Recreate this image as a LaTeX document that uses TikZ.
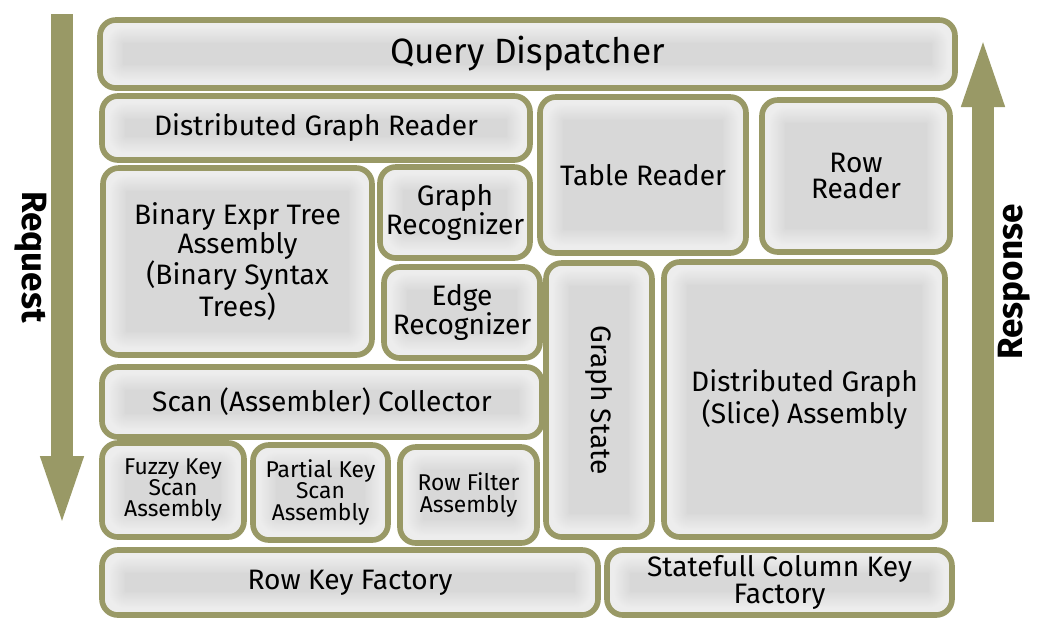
\documentclass[tikz,border=0pt]{standalone}
\usepackage{fontspec}
\setmainfont{Fira Sans}
\usetikzlibrary{arrows.meta}

\definecolor{olivebd}{RGB}{153,153,102}
\definecolor{boxgray}{RGB}{216,216,216}

\tikzset{
  blk/.style={draw=olivebd, line width=3.2pt, rounded corners=9pt,
    fill=boxgray, align=center, inner sep=2pt,
    path picture={
      % inner white glow along the border
      \foreach \w in {1,2,...,26}
        \draw[white, line width=\w pt, opacity=0.055, rounded corners=14pt]
          (path picture bounding box.south west) rectangle
          (path picture bounding box.north east);
    }},
  bigtxt/.style={font=\fontsize{20}{20}\selectfont},
  midtxt/.style={font=\fontsize{16}{15}\selectfont},
  smalltxt/.style={font=\fontsize{13}{12}\selectfont},
  flow/.style={olivebd, line width=0.44cm,
    -{Triangle[length=1.5cm, width=0.74cm]}},
  flowlbl/.style={font=\fontsize{20}{20}\selectfont\bfseries}
}

\begin{document}
\begin{tikzpicture}
  \useasboundingbox (0,0) rectangle (21.06,-12.66);

  % Fila superior
  \node[blk, bigtxt, minimum width=17.1cm, minimum height=1.36cm] (qd) at (10.55,-1.08) {Query Dispatcher};

  % Lectores
  \node[blk, midtxt, minimum width=8.56cm, minimum height=1.28cm] (dgr) at (6.32,-2.56) {Distributed Graph Reader};
  \node[blk, midtxt, minimum width=4.12cm, minimum height=3.12cm] (tr) at (12.86,-3.5) {Table Reader};
  \node[blk, midtxt, minimum width=3.76cm, minimum height=3.04cm] (rr) at (17.12,-3.52) {Row\\Reader};

  % Ensamblado de expresiones
  \node[blk, midtxt, minimum width=5.38cm, minimum height=3.74cm] (bet) at (4.75,-5.23) {Binary Expr Tree\\Assembly\\(Binary Syntax\\Trees)};
  \node[blk, midtxt, minimum width=3.0cm, minimum height=1.82cm] (gr) at (9.1,-4.25) {Graph\\Recognizer};
  \node[blk, midtxt, minimum width=3.12cm, minimum height=1.82cm] (er) at (9.24,-6.25) {Edge\\Recognizer};

  % Estado y ensamblado del grafo
  \node[blk, midtxt, minimum width=2.12cm, minimum height=5.48cm] (gs) at (11.98,-8.0) {\rotatebox{-90}{Graph State}};
  \node[blk, midtxt, minimum width=5.62cm, minimum height=5.5cm] (dgsa) at (16.09,-7.99) {Distributed Graph\\(Slice) Assembly};

  % Escaneo
  \node[blk, midtxt, minimum width=8.8cm, minimum height=1.4cm] (sac) at (6.44,-8.04) {Scan (Assembler) Collector};
  \node[blk, smalltxt, minimum width=2.84cm, minimum height=1.88cm] (fks) at (3.46,-9.8) {Fuzzy Key\\Scan\\Assembly};
  \node[blk, smalltxt, minimum width=2.7cm, minimum height=1.9cm] (pks) at (6.41,-9.85) {Partial Key\\Scan\\Assembly};
  \node[blk, smalltxt, minimum width=2.74cm, minimum height=1.92cm] (rfa) at (9.37,-9.9) {Row Filter\\Assembly};

  % Fabricas de claves
  \node[blk, midtxt, minimum width=9.92cm, minimum height=1.3cm] (rkf) at (7.0,-11.65) {Row Key Factory};
  \node[blk, midtxt, minimum width=6.9cm, minimum height=1.3cm] (sckf) at (15.59,-11.65) {Statefull Column Key\\Factory};

  % Flechas de peticion y respuesta
  \coordinate (reqtop) at (1.24,-0.28);
  \coordinate (reqend) at (1.24,-10.62);
  \coordinate (resbot) at (19.66,-10.44);
  \coordinate (resend) at (19.66,-0.64);
  \draw[flow] (reqtop) -- (reqend);
  \draw[flow] (resbot) -- (resend);
  \node[flowlbl, rotate=-90] (req) at (0.62,-5.14) {Request};
  \node[flowlbl, rotate=90] (res) at (20.28,-5.64) {Response};
\end{tikzpicture}
\end{document}
